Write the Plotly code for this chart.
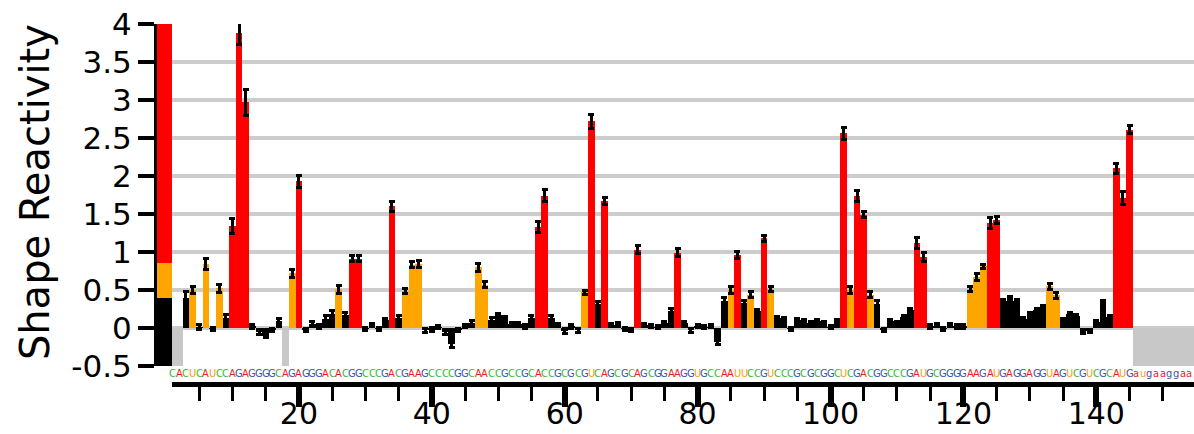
import plotly.graph_objects as go

# RNA sequence (upper case = probed region, lower case = flanking tail)
sequence = ("CACUCAUCCA" "GAGGGGCAGA" "GGGACACGGC" "CCGACGAAGC" "CCCGGCAACC"
            "GCCGCACCGC" "GCGUCAGCGC" "AGCGGAAGGU" "GCCAAUUCCG" "UCCCGCGCGG"
            "CUCGACGGCC" "CGAUGCGGGG" "AAGAUGAGGA" "GGUAGUCGUC" "GCAUG"
            "augaaggaa")

# SHAPE reactivity for nucleotides 1..145 (None = no data)
reactivity = [
    None, None, 0.39, 0.50, 0.01, 0.84, -0.01, 0.52, 0.13, 1.34,      # 1-10
    3.88, 2.97, 0.02, -0.05, -0.10, -0.03, 0.09, None, 0.72, 1.93,    # 11-20
    -0.02, 0.05, 0.02, 0.12, 0.19, 0.51, 0.17, 0.91, 0.91, -0.01,     # 21-30
    0.04, -0.01, 0.10, 1.60, 0.13, 0.49, 0.83, 0.84, -0.03, -0.02,    # 31-40
    0.01, -0.05, -0.21, -0.02, 0.03, 0.07, 0.80, 0.57, 0.11, 0.17,    # 41-50
    0.13, 0.05, 0.05, 0.02, 0.13, 1.33, 1.74, 0.13, 0.04, -0.04,      # 51-60
    0.02, -0.03, 0.47, 2.72, 0.31, 1.67, 0.04, 0.05, -0.01, -0.03,    # 61-70
    1.03, 0.04, 0.03, 0.01, 0.07, 0.23, 0.99, 0.07, -0.03, 0.03,      # 71-80
    0.01, 0.03, -0.19, 0.36, 0.50, 0.96, 0.33, 0.44, 0.22, 1.18,      # 81-90
    0.51, 0.13, 0.12, -0.01, 0.10, 0.09, 0.07, 0.09, 0.06, 0.01,      # 91-100
    0.09, 2.56, 0.50, 1.74, 1.49, 0.44, 0.31, -0.02, 0.09, 0.07,      # 101-110
    0.15, 0.24, 1.12, 0.93, 0.02, 0.04, -0.01, 0.04, 0.02, 0.02,      # 111-120
    0.51, 0.67, 0.81, 1.38, 1.42, 0.36, 0.39, 0.35, 0.12, 0.19,       # 121-130
    0.24, 0.28, 0.55, 0.43, 0.10, 0.19, 0.16, -0.05, -0.04, 0.08,     # 131-140
    0.34, 0.15, 2.10, 1.71, 2.61,                                     # 141-145
]

reactivity_err = [
    None, None, 0.09, 0.05, 0.03, 0.07, 0.02, 0.05, 0.05, 0.10,
    0.15, 0.17, 0.02, 0.03, 0.03, 0.02, 0.04, None, 0.05, 0.08,
    0.02, 0.03, 0.03, 0.04, 0.04, 0.05, 0.03, 0.04, 0.04, 0.02,
    0.02, 0.02, 0.03, 0.07, 0.04, 0.03, 0.04, 0.05, 0.03, 0.03,
    0.02, 0.03, 0.04, 0.02, 0.02, 0.03, 0.05, 0.04, 0.03, 0.02,
    0.02, 0.02, 0.02, 0.02, 0.04, 0.07, 0.08, 0.04, 0.02, 0.03,
    0.02, 0.03, 0.03, 0.09, 0.04, 0.05, 0.02, 0.02, 0.02, 0.02,
    0.05, 0.02, 0.02, 0.02, 0.02, 0.03, 0.05, 0.02, 0.03, 0.02,
    0.02, 0.02, 0.03, 0.04, 0.04, 0.05, 0.03, 0.04, 0.02, 0.04,
    0.03, 0.02, 0.02, 0.02, 0.02, 0.02, 0.02, 0.02, 0.02, 0.02,
    0.02, 0.08, 0.05, 0.07, 0.04, 0.04, 0.05, 0.02, 0.02, 0.02,
    0.02, 0.02, 0.07, 0.06, 0.02, 0.02, 0.02, 0.02, 0.02, 0.02,
    0.03, 0.05, 0.03, 0.07, 0.05, 0.02, 0.03, 0.02, 0.02, 0.02,
    0.02, 0.02, 0.04, 0.04, 0.02, 0.02, 0.02, 0.02, 0.02, 0.02,
    0.02, 0.02, 0.07, 0.08, 0.05,
]

# colour bins: black < 0.4 <= orange < 0.85 <= red
bin_edges = [-0.5, 0.4, 0.85, 4.0]
bin_colors = ["#000000", "#ffa500", "#ff0000"]

x_ticks = [20, 40, 60, 80, 100, 120, 140]
y_ticks = [-0.5, 0, 0.5, 1, 1.5, 2, 2.5, 3, 3.5, 4]
y_tick_labels = ["-0.5", "0", "0.5", "1", "1.5", "2", "2.5", "3", "3.5", "4"]

nuc_colors = {"A": "#ee1c1c", "C": "#33bb33", "G": "#3355b0", "U": "#ff9a00"}
NODATA = "#c8c8c8"


def bin_color(v):
    for hi, col in zip(bin_edges[1:], bin_colors):
        if v < hi:
            return col
    return bin_colors[-1]


measured = [(i + 1, v, e) for i, (v, e) in enumerate(zip(reactivity, reactivity_err)) if v is not None]
nts = [m[0] for m in measured]
vals = [m[1] for m in measured]
errs = [m[2] for m in measured]
missing = [i + 1 for i, v in enumerate(reactivity) if v is None] + \
          list(range(len(reactivity) + 1, len(sequence) + 2))

fig = go.Figure()

# grey fill below zero where there is no data
fig.add_trace(go.Bar(
    x=missing, y=[0.5] * len(missing), base=[-0.5] * len(missing), width=1,
    marker=dict(color=NODATA, line=dict(width=0)), hoverinfo="skip"))

# reactivity bars with error bars
fig.add_trace(go.Bar(
    x=nts, y=vals, width=1,
    marker=dict(color=[bin_color(v) for v in vals], line=dict(width=0)),
    error_y=dict(type="data", array=errs, visible=True, color="black",
                 thickness=3, width=3)))

# colour key strip next to the y axis
fig.add_trace(go.Bar(
    x=[0.5] * 3,
    y=[hi - lo for lo, hi in zip(bin_edges[:-1], bin_edges[1:])],
    base=bin_edges[:-1], width=1,
    marker=dict(color=bin_colors, line=dict(width=0)),
    xaxis="x2", yaxis="y", hoverinfo="skip"))

W_PLOT = 1194 - 155
H_PLOT = 434 - 24 - 50

# sequence letters in the strip between the plot and the x axis
SEQ_ROW = 11 / H_PLOT
letters = [
    dict(x=i + 1, y=SEQ_ROW, xref="x", yref="paper", text=c, showarrow=False,
         xanchor="center", yanchor="middle",
         font=dict(family="DejaVu Sans Condensed, DejaVu Sans", size=11,
                   color=nuc_colors[c.upper()]))
    for i, c in enumerate(sequence)
]

title = dict(
    text="Shape Reactivity", textangle=-90, showarrow=False,
    xref="paper", yref="paper", x=-120 / W_PLOT, y=0.533,
    xanchor="center", yanchor="middle",
    font=dict(size=40, color="black", family="DejaVu Sans"))

fig.update_layout(
    width=1194, height=434,
    margin=dict(l=155, r=0, t=24, b=50, autoexpand=False),
    paper_bgcolor="white", plot_bgcolor="white",
    barmode="overlay", bargap=0, showlegend=False,
    font=dict(family="DejaVu Sans", color="black"),
    xaxis=dict(
        domain=[17 / W_PLOT, 1], range=[0.9, 154.7],
        anchor="free", position=0, automargin=False,
        showline=True, linecolor="black", linewidth=5,
        ticks="outside", tickmode="array", tickvals=x_ticks,
        ticklen=20, tickwidth=6, tickcolor="black",
        ticklabelstandoff=-19,
        tickfont=dict(size=30, color="black"),
        showgrid=False, zeroline=False,
        minor=dict(dtick=5, tick0=0, ticks="outside", ticklen=14,
                   tickwidth=3, tickcolor="black", showgrid=False),
    ),
    xaxis2=dict(domain=[2 / W_PLOT, 17 / W_PLOT], range=[0, 1],
                anchor="y", visible=False),
    yaxis=dict(
        domain=[0.05, 1], range=[-0.5, 4],
        anchor="free", position=0, automargin=False,
        showline=True, linecolor="black", linewidth=3,
        ticks="outside", tickmode="array", tickvals=y_ticks, ticktext=y_tick_labels,
        ticklen=16, tickwidth=4, tickcolor="black",
        tickfont=dict(size=31, color="black"),
        showgrid=True, gridcolor="#cccccc", gridwidth=4, zeroline=False,
    ),
    annotations=letters + [title],
)

fig.write_html("out.html", config={"displayModeBar": False})
